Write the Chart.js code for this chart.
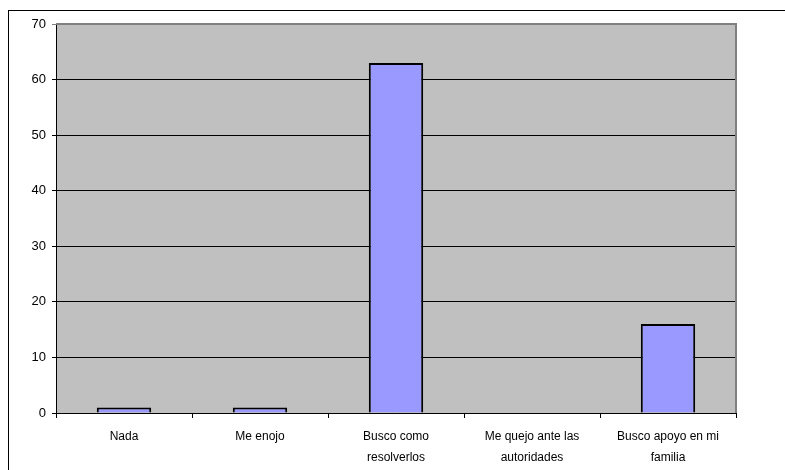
<!DOCTYPE html>
<html>
<head>
<meta charset="utf-8">
<script src="https://cdn.jsdelivr.net/npm/chart.js@4/dist/chart.umd.min.js"></script>
<style>
  html, body { margin: 0; padding: 0; background: #fff; overflow: hidden; }
  #wrap { position: relative; width: 785px; height: 470px; }
  #frame { position: absolute; left: 8px; top: 10px; width: 800px; height: 480px; border: 1px solid #000; box-sizing: border-box; }
  canvas { position: absolute; left: 0; top: 0; }
</style>
</head>
<body>
<div id="wrap">
  <div id="frame"></div>
  <canvas id="c" width="785" height="470"></canvas>
</div>
<script>
const categories = [
    'Nada',
    'Me enojo',
    ['Busco como', 'resolverlos'],
    ['Me quejo ante las', 'autoridades'],
    ['Busco apoyo en mi', 'familia']
];
const values = [1, 1, 63, 0, 16];
const yTicks = [0, 10, 20, 30, 40, 50, 60, 70];

// gray plot area with gray top/right edges
const plotBg = {
    id: 'plotBg',
    beforeDraw(chart) {
        const a = chart.chartArea, ctx = chart.ctx;
        ctx.save();
        ctx.fillStyle = '#c0c0c0';
        ctx.fillRect(a.left, a.top, a.right - a.left, a.bottom - a.top);
        ctx.restore();
    },
    afterDraw(chart) {
        const a = chart.chartArea, ctx = chart.ctx;
        ctx.save();
        ctx.strokeStyle = '#808080';
        ctx.lineWidth = 2;
        ctx.beginPath();
        ctx.moveTo(a.left, a.top);
        ctx.lineTo(a.right, a.top);
        ctx.lineTo(a.right, a.bottom);
        ctx.stroke();
        ctx.restore();
    }
};

Chart.defaults.font.family = '"Liberation Sans", Arial, sans-serif';
Chart.defaults.color = '#000';

new Chart(document.getElementById('c').getContext('2d'), {
    type: 'bar',
    data: {
        labels: categories,
        datasets: [{
            data: values,
            backgroundColor: '#9999ff',
            borderColor: '#000',
            borderWidth: 2,
            categoryPercentage: 1,
            barPercentage: 0.4
        }]
    },
    options: {
        animation: false,
        responsive: false,
        layout: { padding: { left: 0, top: 24, right: 49, bottom: 0 } },
        plugins: { legend: { display: false }, tooltip: { enabled: false } },
        scales: {
            x: {
                afterFit(s) { s.height = 57; },
                border: { color: '#000', width: 1 },
                grid: { drawOnChartArea: false, color: '#000', tickLength: 5, offset: true },
                ticks: { font: { size: 12, lineHeight: 1.75 }, padding: 8, maxRotation: 0, autoSkip: false }
            },
            y: {
                min: 0,
                max: 70,
                afterFit(s) { s.width = 56; },
                afterBuildTicks(s) { s.ticks = yTicks.map(v => ({ value: v })); },
                border: { color: '#000', width: 1 },
                grid: {
                    color: ctx => (ctx.tick && ctx.tick.value === 70) ? '#808080' : '#000',
                    tickLength: 4
                },
                ticks: { font: { size: 13 }, padding: 6 }
            }
        }
    },
    plugins: [plotBg]
});
</script>
</body>
</html>
